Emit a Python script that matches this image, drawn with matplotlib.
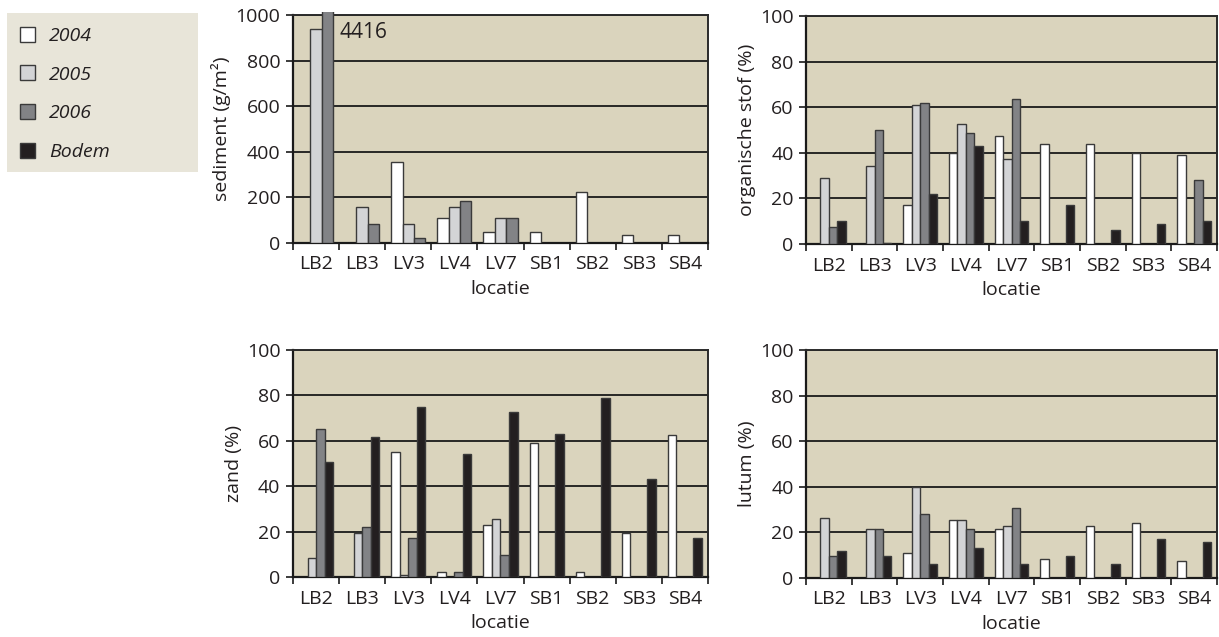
import numpy as np
import matplotlib
matplotlib.use("Agg")
import matplotlib.pyplot as plt
from matplotlib.patches import Rectangle, Patch

plt.rcParams['font.family'] = ['Open Sans', 'DejaVu Sans']

locaties = ["LB2", "LB3", "LV3", "LV4", "LV7", "SB1", "SB2", "SB3", "SB4"]
series_names = ["2004", "2005", "2006", "Bodem"]
nan = np.nan

# sediment (g/m2) -- only yearly series
sed_2004 = [nan, nan, 357, 110, 48, 48, 223, 35, 35]
sed_2005 = [938, 158, 85, 158, 110, nan, nan, nan, nan]
sed_2006 = [4416, 85, 23, 185, 110, nan, nan, nan, nan]

# organische stof (%)
org_2004 = [nan, nan, 17, 40, 47.5, 44, 44, 40, 39]
org_2005 = [29, 34, 61, 52.5, 37.5, nan, nan, nan, nan]
org_2006 = [7.5, 50, 62, 48.5, 63.5, nan, nan, nan, 28]
org_bodem = [10, 0.4, 22, 43, 10, 17, 6.3, 8.8, 10]

# zand (%)
zand_2004 = [nan, nan, 55, 2.2, 23, 59, 2.2, 19.5, 62.5]
zand_2005 = [8.5, 19.5, 0.9, nan, 25.5, nan, nan, nan, nan]
zand_2006 = [65, 22, 17, 2.2, 9.5, nan, nan, nan, nan]
zand_bodem = [50.5, 61.5, 75, 54, 72.5, 63, 79, 43, 17]

# lutum (%)
lut_2004 = [nan, nan, 11, 25.5, 21.5, 8.3, 23, 24, 7.3]
lut_2005 = [26.5, 21.5, 40, 25.5, 23, nan, nan, nan, nan]
lut_2006 = [9.5, 21.5, 28, 21.5, 30.5, nan, nan, nan, nan]
lut_bodem = [12, 9.7, 6, 13, 6, 9.7, 6, 17, 16]

colors = ["#ffffff", "#d3d4d6", "#828386", "#231f20"]
plot_bg = "#dad4bd"
legend_bg = "#e8e5d9"
text_col = "#231f20"
FS = 14

W, H = 1219, 637
fig = plt.figure(figsize=(W / 100, H / 100), dpi=100)
fig.patch.set_facecolor("white")


def px_axes(l, t, r, b):
    return fig.add_axes([l / W, 1 - b / H, (r - l) / W, (b - t) / H])


def panel(ax, data, ymax, yticks, ylabel):
    n = len(data)
    group = 0.74
    bw = group / n
    x = np.arange(len(locaties))
    bars_out = []
    for i, (vals, c) in enumerate(data):
        off = -group / 2 + bw * (i + 0.5)
        b = ax.bar(x + off, vals, width=bw, color=c, edgecolor="#3a3a3a",
                   linewidth=1.0, zorder=3)
        bars_out.append(b)
    ax.set_facecolor(plot_bg)
    ax.set_xlim(-0.5, len(locaties) - 0.5)
    ax.set_ylim(0, ymax)
    ax.set_yticks(yticks)
    ax.set_yticklabels([str(v) for v in yticks], fontsize=FS, color=text_col)
    ax.yaxis.grid(True, color="#1a1a1a", linewidth=1.3, zorder=1)
    ax.set_axisbelow(True)
    ax.set_xticks(x)
    ax.set_xticklabels(locaties, fontsize=FS, color=text_col)
    ax.set_xticks(np.arange(-0.5, len(locaties)), minor=True)
    ax.tick_params(axis="x", which="major", length=0, pad=9)
    ax.tick_params(axis="x", which="minor", length=5, width=1.2, color="#1a1a1a")
    ax.tick_params(axis="y", length=5, width=1.2, color="#1a1a1a", pad=4)
    for s in ["left", "bottom"]:
        ax.spines[s].set_color("#1a1a1a")
        ax.spines[s].set_linewidth(1.6)
    for s in ["top", "right"]:
        ax.spines[s].set_color("#2a2a2a")
        ax.spines[s].set_linewidth(1.4)
    ax.set_xlabel("locatie", fontsize=FS, color=text_col, labelpad=5)
    ax.set_ylabel(ylabel, fontsize=FS, color=text_col, labelpad=3)
    return bars_out


ax1 = px_axes(293, 15, 708, 243)
b1 = panel(ax1, [(sed_2004, colors[0]), (sed_2005, colors[1]), (sed_2006, colors[2])],
           1000, [0, 200, 400, 600, 800, 1000], "sediment (g/m²)")
clip = Rectangle((0, 0), 1, 1.015, transform=ax1.transAxes)
for p in b1[2]:
    p.set_clip_path(clip)
ax1.text(0.111, 0.925, "4416", transform=ax1.transAxes, fontsize=15,
         color=text_col, ha="left", va="center", zorder=5)

ax2 = px_axes(806, 16, 1217, 244)
panel(ax2, [(org_2004, colors[0]), (org_2005, colors[1]), (org_2006, colors[2]),
            (org_bodem, colors[3])], 100, [0, 20, 40, 60, 80, 100], "organische stof (%)")

ax3 = px_axes(293, 350, 708, 577)
panel(ax3, [(zand_2004, colors[0]), (zand_2005, colors[1]), (zand_2006, colors[2]),
            (zand_bodem, colors[3])], 100, [0, 20, 40, 60, 80, 100], "zand (%)")

ax4 = px_axes(806, 350, 1217, 578)
panel(ax4, [(lut_2004, colors[0]), (lut_2005, colors[1]), (lut_2006, colors[2]),
            (lut_bodem, colors[3])], 100, [0, 20, 40, 60, 80, 100], "lutum (%)")

# legend box
fig.patches.append(Rectangle((7 / W, 1 - 172 / H), 191 / W, 159 / H,
                             transform=fig.transFigure, facecolor=legend_bg,
                             edgecolor="none", zorder=0))
handles = [Patch(facecolor=c, edgecolor="#3a3a3a", linewidth=1.0) for c in colors]
leg = fig.legend(handles, series_names, loc="upper left",
                 bbox_to_anchor=(16 / W, 1 - 23 / H), frameon=False,
                 prop={"size": FS, "style": "italic"},
                 handlelength=0.8, handleheight=0.8, handletextpad=0.7,
                 labelspacing=1.05, borderaxespad=0, borderpad=0.2)
for t in leg.get_texts():
    t.set_color(text_col)

fig.savefig("out.png", dpi=100)
